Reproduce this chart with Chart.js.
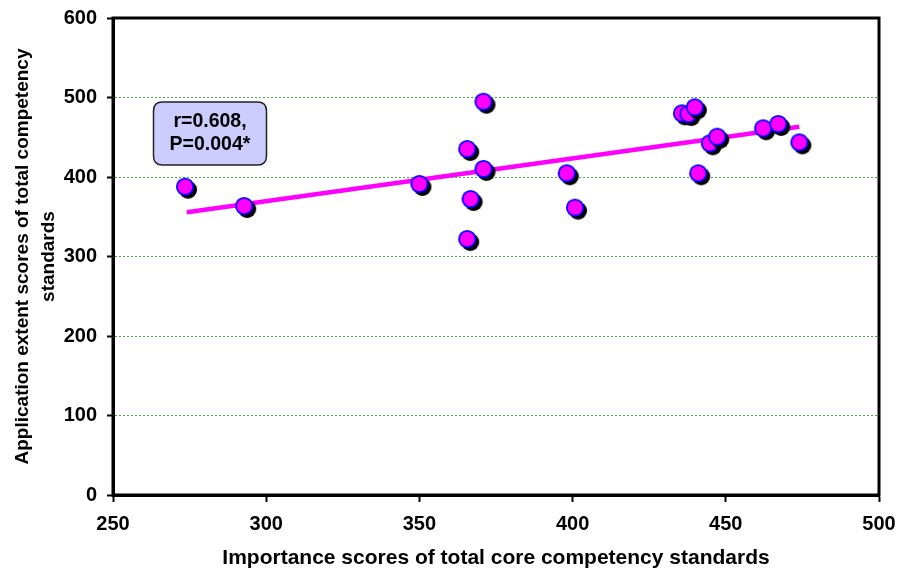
<!DOCTYPE html>
<html>
<head>
<meta charset="utf-8">
<script src="https://cdn.jsdelivr.net/npm/chart.js@4/dist/chart.umd.min.js"></script>
<style>
  html, body { margin: 0; padding: 0; background: #ffffff; }
  #wrap { width: 898px; height: 569px; }
</style>
</head>
<body>
<div id="wrap"><canvas id="c" width="898" height="569"></canvas></div>
<script>
// Importance scores (x) and application extent scores (y)
const importanceScores = [273.5, 292.8, 350.0, 370.9, 365.6, 370.9, 366.7, 365.6, 398.1, 400.8, 435.7, 437.8, 439.9, 444.8, 447.2, 441.0, 462.2, 467.1, 474.0];
const applicationScores = [387.8, 363.5, 391.2, 494.7, 435.2, 410.1, 372.3, 322.0, 404.7, 361.4, 480.1, 479.2, 487.7, 442.4, 450.7, 404.7, 461.3, 466.7, 443.6];
// Trend line end points
const trendX = [274.1, 474.0];
const trendY = [355.6, 463.3];
const xTicks = [250, 300, 350, 400, 450, 500];
const yTicks = [0, 100, 200, 300, 400, 500, 600];
const annotationLines = ['r=0.608,', 'P=0.004*'];
const xTitle = 'Importance scores of total core competency standards';
const yTitle = ['Application extent scores of total competency', 'standards'];

const FONT = '"Liberation Sans", Arial, sans-serif';

const pointData = importanceScores.map((x, i) => ({ x: x, y: applicationScores[i] }));
const trendData = trendX.map((x, i) => ({ x: x, y: trendY[i] }));

// Marker image: magenta disc, blue rim, black drop shadow to the lower right
function makeMarker() {
  const size = 30, c = size / 2;
  const cv = document.createElement('canvas');
  cv.width = size; cv.height = size;
  const g = cv.getContext('2d');
  g.fillStyle = '#000000';
  g.beginPath(); g.arc(c + 3, c + 3, 9, 0, Math.PI * 2); g.fill();
  g.fillStyle = '#FF00FF';
  g.beginPath(); g.arc(c, c, 8.2, 0, Math.PI * 2); g.fill();
  g.strokeStyle = '#0000FF';
  g.lineWidth = 1.8;
  g.stroke();
  return cv;
}
const marker = makeMarker();

const frameAndBox = {
  id: 'frameAndBox',
  afterDraw(chart) {
    const ctx = chart.ctx;
    const a = chart.chartArea;
    ctx.save();
    ctx.strokeStyle = '#000000';
    ctx.lineWidth = 3;
    ctx.strokeRect(a.left, a.top, a.right - a.left, a.bottom - a.top);
    // annotation box
    const bx = a.left + 40.5, by = a.top + 84, bw = 113, bh = 63, r = 9;
    ctx.beginPath();
    ctx.moveTo(bx + r, by);
    ctx.lineTo(bx + bw - r, by);
    ctx.quadraticCurveTo(bx + bw, by, bx + bw, by + r);
    ctx.lineTo(bx + bw, by + bh - r);
    ctx.quadraticCurveTo(bx + bw, by + bh, bx + bw - r, by + bh);
    ctx.lineTo(bx + r, by + bh);
    ctx.quadraticCurveTo(bx, by + bh, bx, by + bh - r);
    ctx.lineTo(bx, by + r);
    ctx.quadraticCurveTo(bx, by, bx + r, by);
    ctx.closePath();
    ctx.fillStyle = '#CCCCFF';
    ctx.fill();
    ctx.lineWidth = 1.5;
    ctx.strokeStyle = '#222222';
    ctx.stroke();
    ctx.fillStyle = '#000000';
    ctx.font = 'bold 19.5px ' + FONT;
    ctx.textAlign = 'center';
    ctx.textBaseline = 'middle';
    ctx.fillText(annotationLines[0], bx + bw / 2, by + 19.5);
    ctx.fillText(annotationLines[1], bx + bw / 2, by + 43);
    ctx.restore();
  }
};

new Chart(document.getElementById('c'), {
  type: 'scatter',
  data: {
    datasets: [
      {
        label: 'scores',
        data: pointData,
        pointStyle: marker,
        pointRadius: 9,
        pointHoverRadius: 9
      },
      {
        label: 'trend',
        data: trendData,
        showLine: true,
        pointRadius: 0,
        pointHoverRadius: 0,
        borderColor: '#FF00FF',
        borderWidth: 4.5,
        fill: false
      }
    ]
  },
  options: {
    responsive: false,
    animation: false,
    devicePixelRatio: 1,
    layout: { padding: { left: 0, right: 19, top: 18, bottom: 0 } },
    plugins: {
      legend: { display: false },
      tooltip: { enabled: false }
    },
    scales: {
      x: {
        type: 'linear',
        min: 250,
        max: 500,
        afterBuildTicks(s) { s.ticks = xTicks.map(v => ({ value: v })); },
        afterFit(s) { s.height = 74; s.paddingLeft = 0; s.paddingRight = 0; },
        ticks: {
          color: '#000000',
          font: { family: FONT, size: 20, weight: 'bold' },
          padding: 10,
          maxRotation: 0
        },
        grid: {
          drawOnChartArea: false,
          drawTicks: true,
          tickLength: 7,
          tickColor: '#000000',
          tickWidth: 2
        },
        border: { display: true, color: '#000000', width: 3 },
        title: {
          display: true,
          text: xTitle,
          color: '#000000',
          font: { family: FONT, size: 21, weight: 'bold', lineHeight: 1.0 },
          padding: { top: 0, bottom: 0 }
        }
      },
      y: {
        type: 'linear',
        min: 0,
        max: 600,
        afterBuildTicks(s) { s.ticks = yTicks.map(v => ({ value: v })); },
        afterFit(s) { s.width = 113; s.paddingTop = 0; s.paddingBottom = 0; },
        ticks: {
          color: '#000000',
          font: { family: FONT, size: 20, weight: 'bold' },
          padding: 10
        },
        grid: {
          color: (c) => (c.tick && (c.tick.value === 0 || c.tick.value === 600)) ? 'rgba(0,0,0,0)' : '#49a849',
          lineWidth: 1,
          borderDash: [2, 2],
          tickLength: 6,
          tickColor: '#000000',
          tickWidth: 2
        },
        border: { display: true, color: '#000000', width: 3, dash: [2, 2] },
        title: {
          display: true,
          text: yTitle,
          color: '#000000',
          font: { family: FONT, size: 19, weight: 'bold', lineHeight: 1.37 },
          padding: { top: 10, bottom: 0 }
        }
      }
    }
  },
  plugins: [frameAndBox]
});
</script>
</body>
</html>
